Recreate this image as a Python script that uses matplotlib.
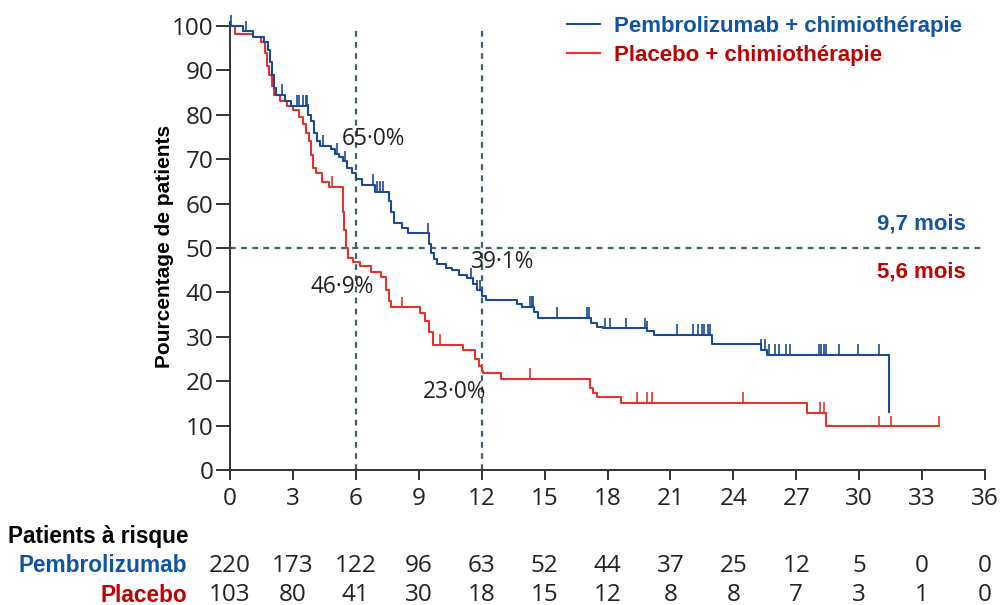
import numpy as np
import matplotlib.pyplot as plt

# x axis / risk table
months = [0, 3, 6, 9, 12, 15, 18, 21, 24, 27, 30, 33, 36]
risk_pembro = [220, 173, 122, 96, 63, 52, 44, 37, 25, 12, 5, 0, 0]
risk_placebo = [103, 80, 41, 30, 18, 15, 12, 8, 8, 7, 3, 1, 0]

# Kaplan-Meier steps (time in months, % after the step)
pembro_t = [0, 0.6, 1.1, 1.6, 1.8, 1.9, 2.0, 2.1, 2.2, 2.6, 2.9, 3.7, 3.85, 4.0,
            4.15, 4.3, 4.8, 5.0, 5.2, 5.4, 5.6, 5.8, 6.0, 6.3, 6.9, 7.6, 7.7,
            7.8, 8.2, 8.5, 9.5, 9.6, 9.75, 9.85, 10.3, 10.6, 10.9, 11.3, 11.6,
            11.8, 12.0, 12.2, 13.7, 13.9, 14.5, 14.7, 17.2, 17.5, 17.8, 19.9,
            20.2, 23.0, 25.3, 25.6, 31.43]
pembro_s = [100, 98.8, 97.6, 96.5, 94.5, 92, 89, 86, 84.5, 83.2, 82, 80, 78.5, 76,
            74, 73, 72.3, 71.2, 70.5, 69.5, 68, 67, 65.5, 64.2, 62.7, 60.5, 58,
            55.6, 54.5, 53.3, 51, 48.8, 47.5, 46.5, 45.5, 45, 44, 43.2, 42,
            40.5, 39.1, 38.3, 37.3, 36.8, 35.5, 34.2, 33, 32.3, 31.9, 31.2,
            30.4, 28.3, 27, 25.9, 13]
pembro_cens = [0.05, 0.75, 2.5, 3.2, 3.3, 3.5, 3.6, 3.65, 3.7, 4.45, 5.1, 5.5, 6.8,
               7.0, 7.15, 7.3, 9.45, 11.5, 11.8, 11.9, 14.3, 14.4, 14.45, 15.6,
               17.0, 17.1, 17.9, 18.1, 18.9, 19.8, 19.9, 21.3, 22.1, 22.3, 22.5,
               22.6, 22.8, 22.9, 25.3, 25.5, 25.7, 26.0, 26.2, 26.5, 26.7, 28.1,
               28.2, 28.3, 28.4, 29.05, 29.95, 30.95]

placebo_t = [0, 0.25, 1.1, 1.5, 1.65, 1.75, 1.85, 2.0, 2.1, 2.4, 2.7, 3.0, 3.3,
             3.5, 3.6, 3.75, 3.85, 3.95, 4.1, 4.4, 4.7, 5.4, 5.45, 5.55, 5.65,
             5.85, 6.2, 6.7, 7.2, 7.45, 7.6, 7.7, 9.05, 9.3, 9.5, 9.7, 11.1,
             11.7, 11.85, 12.0, 12.05, 12.9, 17.15, 17.3, 17.5, 18.65, 27.5,
             28.41, 33.8]
placebo_s = [100, 98.3, 97.5, 96.5, 94, 91, 89, 86.5, 84.5, 83, 82, 81, 79.5,
             78, 76, 74, 71, 68, 66.8, 64.9, 63.8, 58, 54, 50, 47.8,
             46.9, 46, 44.7, 43.5, 40.5, 38, 36.6, 35.3, 33.5, 31, 28.2, 27,
             25, 23.5, 22.3, 21.8, 20.5, 18.5, 17.3, 16.4, 15.2, 12.9,
             9.8, 9.8]
placebo_cens = [4.85, 8.2, 10.0, 14.3, 19.4, 19.9, 20.1, 24.45, 28.15, 28.3,
                30.95, 31.5, 33.8]

# landmark annotations: (month, %, label)
notes_x = [6.85, 5.35, 13.0, 10.7]
notes_y = [74.5, 41.2, 46.8, 17.6]
notes_txt = ['65·0%', '46·9%', '39·1%', '23·0%']

BLUE = '#1a4a98'
RED = '#e5322b'
BLUE_TXT = '#0f55a3'
RED_TXT = '#c00000'
GUIDE = '#40606a'
NUM_FONT = 'Open Sans'
BOLD_FONT = 'Liberation Sans'

W, H = 1001, 605
fig = plt.figure(figsize=(W / 100, H / 100), dpi=100)
ax = fig.add_axes([230 / W, 1 - 470 / H, 755 / W, 444 / H])


def fx(px):
    return px / W


def fy(py):
    return 1 - py / H


def surv_at(t, s, c):
    idx = np.searchsorted(t, c, side='right') - 1
    return np.asarray(s)[idx]


# guide lines
ax.axhline(50, color=GUIDE, lw=1.6, ls=(0, (2.6, 2.4)), zorder=1, clip_on=False)
for m in (6, 12):
    ax.plot([m, m], [0, 100], color=GUIDE, lw=1.6, ls=(0, (2.6, 2.4)),
            zorder=1, clip_on=False)

# curves
ax.step(pembro_t, pembro_s, where='post', color=BLUE, lw=1.5, zorder=3,
        label='Pembrolizumab + chimiothérapie', clip_on=False)
ax.step(placebo_t, placebo_s, where='post', color=RED, lw=1.5, zorder=2,
        label='Placebo + chimiothérapie', clip_on=False)

# censor marks
yb = surv_at(pembro_t, pembro_s, pembro_cens)
ax.vlines(pembro_cens, yb, yb + 2.4, color=BLUE, lw=1.2, zorder=3, clip_on=False)
yr = surv_at(placebo_t, placebo_s, placebo_cens)
ax.vlines(placebo_cens, yr, yr + 2.4, color=RED, lw=1.2, zorder=2, clip_on=False)

for x, y, s in zip(notes_x, notes_y, notes_txt):
    ax.text(x, y, s, ha='center', va='center', fontsize=16.3, family=NUM_FONT,
            color='#222222')

ax.set_xlim(0, 36)
ax.set_ylim(0, 100)
ax.set_xticks(months)
ax.set_yticks(range(0, 101, 10))
for sp in ('top', 'right'):
    ax.spines[sp].set_visible(False)
for sp in ('left', 'bottom'):
    ax.spines[sp].set_color('#333333')
    ax.spines[sp].set_linewidth(1.4)
ax.spines['left'].set_bounds(0, 101)
ax.tick_params(axis='y', length=10, width=1.4, color='#333333', pad=2,
               labelsize=17.5, labelcolor='#222222')
ax.tick_params(axis='x', length=7, width=1.4, color='#333333', pad=5,
               labelsize=17.5, labelcolor='#222222')
for lab in ax.get_xticklabels() + ax.get_yticklabels():
    lab.set_family(NUM_FONT)

fig.text(fx(164), fy(246), 'Pourcentage de patients', rotation=90,
         ha='center', va='center', fontsize=15, fontweight='bold',
         family=BOLD_FONT, color='black')

# legend
leg = ax.legend(loc='upper left', bbox_to_anchor=(fx(567), fy(16)),
                bbox_transform=fig.transFigure, frameon=False,
                borderaxespad=0, borderpad=0,
                handlelength=1.5, handletextpad=0.6, labelspacing=0.36,
                prop={'family': BOLD_FONT, 'weight': 'bold', 'size': 16})
for txt, c in zip(leg.get_texts(), (BLUE_TXT, RED_TXT)):
    txt.set_color(c)

# medians
fig.text(fx(966), fy(224), '9,7 mois', ha='right', va='center', fontsize=16,
         fontweight='bold', family=BOLD_FONT, color=BLUE_TXT)
fig.text(fx(966), fy(272), '5,6 mois', ha='right', va='center', fontsize=16,
         fontweight='bold', family=BOLD_FONT, color=RED_TXT)

# risk table
fig.text(fx(8), fy(537), 'Patients à risque', ha='left', va='center',
         fontsize=16.3, fontweight='bold', family=BOLD_FONT, color='black')
fig.text(fx(187), fy(566), 'Pembrolizumab', ha='right', va='center',
         fontsize=16.3, fontweight='bold', family=BOLD_FONT, color=BLUE_TXT)
fig.text(fx(187), fy(595), 'Placebo', ha='right', va='center',
         fontsize=16.3, fontweight='bold', family=BOLD_FONT, color=RED_TXT)
row_trans = ax.get_xaxis_transform()
for m, a, b in zip(months, risk_pembro, risk_placebo):
    ax.text(m, -(566 - 470) / 444, str(a), transform=row_trans, ha='center',
            va='center', fontsize=17.5, family=NUM_FONT, color='#222222',
            clip_on=False)
    ax.text(m, -(595 - 470) / 444, str(b), transform=row_trans, ha='center',
            va='center', fontsize=17.5, family=NUM_FONT, color='#222222',
            clip_on=False)

fig.savefig('out.png', dpi=100)
